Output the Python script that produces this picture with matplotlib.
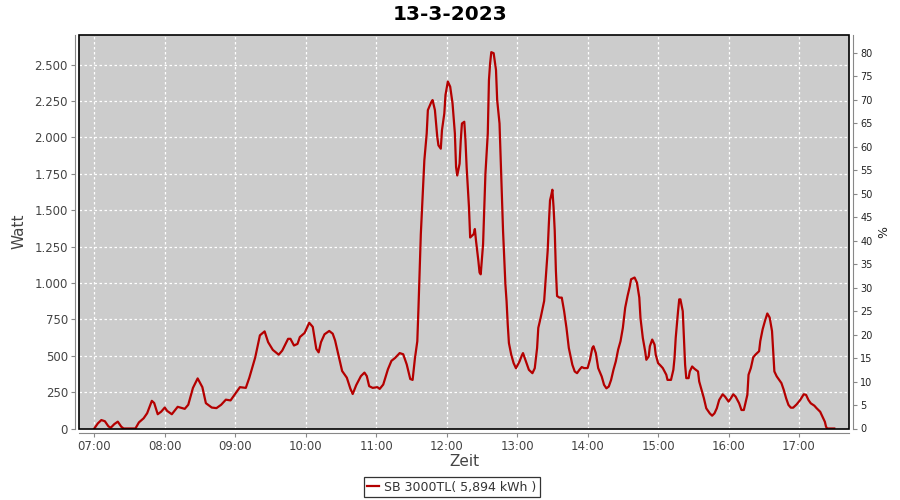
import matplotlib
matplotlib.use("Agg")
import matplotlib.pyplot as plt
from matplotlib.patches import Rectangle
from matplotlib.ticker import FuncFormatter, FixedLocator

# ---- data ----
times = ["07:00","07:03","07:06","07:09","07:12","07:14","07:17","07:20","07:23","07:25",
         "07:35","07:38","07:42","07:45","07:49","07:51","07:54","07:57","08:00","08:02",
         "08:06","08:11","08:15","08:17","08:20","08:24","08:28","08:32","08:35","08:40",
         "08:44","08:48","08:52","08:56","09:01","09:04","09:09","09:12","09:17","09:21",
         "09:25","09:28","09:32","09:37","09:40","09:45","09:47","09:50","09:53","09:55",
         "09:59","10:03","10:06","10:09","10:11","10:13","10:16","10:20","10:23","10:25",
         "10:28","10:31","10:35","10:38","10:40","10:43","10:47","10:50","10:52","10:54",
         "10:57","11:01","11:03","11:06","11:10","11:13","11:16","11:20","11:23","11:26",
         "11:29","11:31","11:33","11:35","11:36","11:37","11:38","11:40","11:41","11:43",
         "11:44","11:47","11:48","11:50","11:52","11:53","11:55","11:56","11:58","11:59",
         "12:01","12:03","12:05","12:07","12:08","12:09","12:11","12:12","12:13","12:15",
         "12:16","12:17","12:19","12:20","12:23","12:24","12:25","12:27","12:28","12:29",
         "12:31","12:32","12:33","12:35","12:36","12:37","12:38","12:40","12:42","12:43",
         "12:45","12:46","12:47","12:48","12:50","12:51","12:52","12:53","12:55","12:57",
         "12:59","13:02","13:04","13:05","13:07","13:10","13:13","13:15","13:17","13:18",
         "13:20","13:23","13:24","13:25","13:26","13:27","13:28","13:29","13:30","13:31",
         "13:32","13:33","13:34","13:36","13:38","13:40","13:42","13:44","13:47","13:49",
         "13:51","13:53","13:55","13:57","14:00","14:02","14:04","14:05","14:07","14:09",
         "14:12","14:14","14:16","14:18","14:20","14:22","14:24","14:26","14:28","14:30",
         "14:32","14:34","14:36","14:37","14:40","14:42","14:44","14:45","14:47","14:49",
         "14:50","14:52","14:53","14:55","14:57","14:58","15:00","15:02","15:04","15:07",
         "15:08","15:11","15:13","15:14","15:15","15:17","15:18","15:19","15:21","15:22",
         "15:23","15:24","15:26","15:27","15:29","15:31","15:34","15:35","15:37","15:39",
         "15:41","15:44","15:46","15:48","15:50","15:52","15:55","15:57","16:00","16:02",
         "16:04","16:06","16:09","16:11","16:13","16:14","16:16","16:17","16:19","16:21",
         "16:23","16:26","16:27","16:29","16:31","16:33","16:35","16:37","16:38","16:39",
         "16:41","16:43","16:45","16:47","16:49","16:51","16:53","16:55","16:58","17:01",
         "17:04","17:06","17:08","17:10","17:13","17:15","17:18","17:20","17:22","17:23",
         "17:24","17:30"]
watts = [0,35,58,50,15,5,30,47,12,0,
         0,42,70,105,190,175,98,116,144,121,
         98,149,140,135,163,279,344,284,174,144,
         140,163,198,193,250,284,279,349,488,640,
         667,593,540,507,535,616,616,570,581,628,
         656,726,698,547,523,593,647,670,651,605,
         500,395,349,274,237,298,360,384,360,291,
         279,284,272,302,407,465,484,518,510,440,
         340,334,483,599,829,1082,1335,1680,1842,2026,
         2187,2244,2256,2187,2003,1945,1922,2049,2164,2291,
         2383,2348,2233,2026,1796,1738,1819,1980,2095,2107,
         1980,1796,1519,1312,1335,1370,1289,1151,1071,1059,
         1266,1519,1750,2026,2394,2509,2585,2578,2463,2256,
         2095,1842,1611,1358,990,875,714,587,506,449,
         414,460,502,518,472,403,380,414,553,691,
         760,876,991,1106,1221,1406,1567,1601,1640,1521,
         1359,1083,910,899,899,806,691,553,438,392,
         380,403,422,415,415,472,553,565,518,415,
         357,300,276,288,334,403,461,542,599,691,
         830,910,979,1025,1037,1002,899,760,622,530,
         472,495,565,611,576,507,449,433,415,369,
         334,334,403,484,622,806,887,887,806,622,
         438,346,346,392,426,410,392,323,265,208,
         139,104,88,104,139,196,235,219,185,208,
         235,219,173,127,127,162,231,369,416,489,
         508,531,600,681,739,790,762,669,531,392,
         358,335,312,265,208,162,143,143,166,196,
         235,231,196,173,157,139,115,81,46,12,
         0,0]
x_tick_labels = ["07:00","08:00","09:00","10:00","11:00","12:00",
                 "13:00","14:00","15:00","16:00","17:00"]
pct_ticks = list(range(0, 85, 5))
series_label = "SB 3000TL( 5,894 kWh )"
title = "13-3-2023"

def to_hours(s):
    h, m = s.split(":")
    return int(h) + int(m) / 60.0

hours = [to_hours(t) for t in times]
xticks = [to_hours(t) for t in x_tick_labels]

fig = plt.figure(figsize=(9, 5), dpi=100)
L, R, T, B = 79, 849, 34.7, 428.5
ax = fig.add_axes([L / 900, (500 - B) / 500, (R - L) / 900, (B - T) / 500])
ax.set_facecolor("#cccccc")
line, = ax.plot(hours, watts, color="#b40000", lw=1.6, zorder=3, label=series_label)
ax.set_xlim(6.783, 17.709)
ax.set_ylim(0, 2705)
ax.xaxis.set_major_locator(FixedLocator(xticks))
ax.set_xticklabels(x_tick_labels)
ax.set_yticks(range(0, 2501, 250))
ax.yaxis.set_major_formatter(FuncFormatter(lambda v, p: f"{int(v):,}".replace(",", ".")))
ax.grid(True, color="white", ls=(0, (2, 2)), lw=0.9, zorder=1)
ax.set_axisbelow(True)

gray = "#888888"
for s in ["top", "right"]:
    ax.spines[s].set_visible(False)
ax.spines["left"].set_position(("outward", 3))
ax.spines["bottom"].set_position(("outward", 3))
ax.spines["left"].set_color(gray)
ax.spines["bottom"].set_color(gray)
ax.tick_params(axis="both", direction="out", length=3, width=0.8, color=gray,
               labelcolor="#444444", labelsize=8.5, pad=2)

ax2 = ax.twinx()
ax2.set_ylim(0, 83.8)
ax2.set_yticks(pct_ticks)
for s in ["top", "left", "bottom"]:
    ax2.spines[s].set_visible(False)
ax2.spines["right"].set_position(("outward", 3))
ax2.spines["right"].set_color(gray)
ax2.tick_params(axis="y", direction="out", length=3, width=0.8, color=gray,
                labelcolor="#222222", labelsize=7, pad=2)
ax2.set_ylabel("%", fontsize=9, color="#222222", labelpad=3)

ax.add_patch(Rectangle((0, 0), 1, 1, transform=ax.transAxes, fill=False,
                       edgecolor="black", lw=1.2, clip_on=False, zorder=5))

ax.set_ylabel("Watt", fontsize=11, color="#444444", labelpad=6)
ax.set_xlabel("Zeit", fontsize=11, color="#444444", labelpad=1)

fig.text(0.5, 0.99, title, ha="center", va="top", fontsize=14.5, fontweight="bold")

leg = fig.legend(handles=[line], loc="center", bbox_to_anchor=(0.502, 0.026),
                 fontsize=9, frameon=True, fancybox=False, edgecolor="black",
                 handlelength=1.0, handletextpad=0.4, borderpad=0.25, borderaxespad=0)
leg.get_frame().set_linewidth(0.9)
for t in leg.get_texts():
    t.set_color("#333333")

fig.savefig("out.png", dpi=100)
